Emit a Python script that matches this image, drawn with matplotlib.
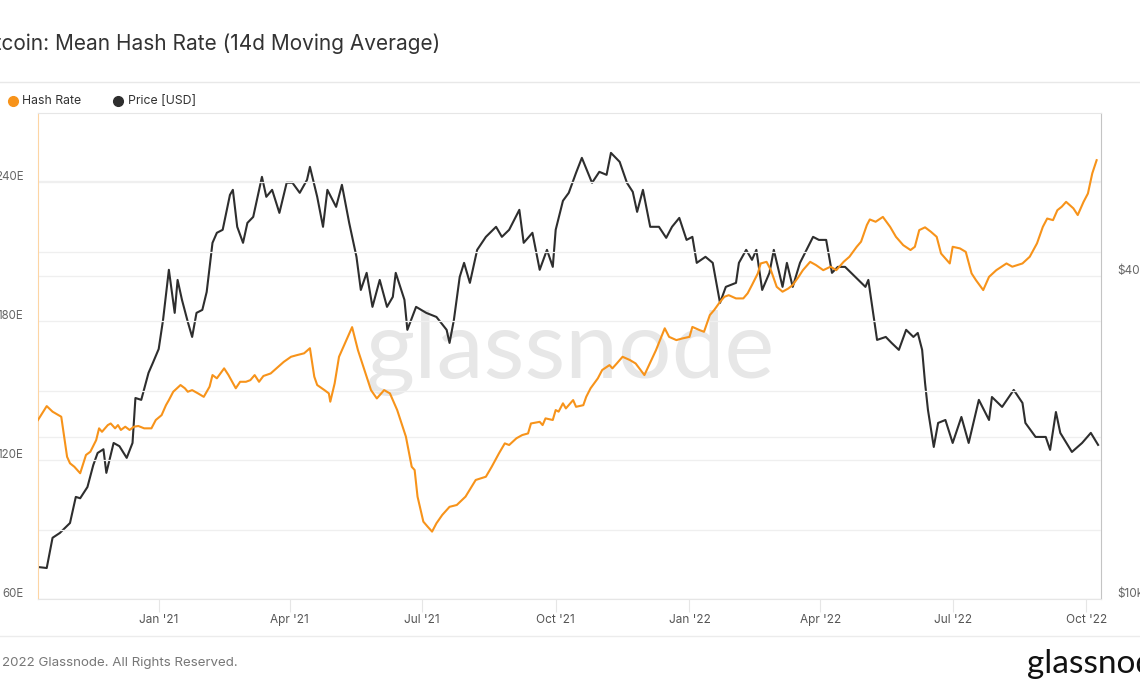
import matplotlib
matplotlib.use("Agg")
import matplotlib.pyplot as plt
import matplotlib.dates as mdates
import matplotlib.ticker as mticker
from matplotlib.lines import Line2D
from matplotlib.transforms import ScaledTranslation
import pandas as pd

plt.rcParams['font.family'] = ['Inter', 'DejaVu Sans']

# --- data ---
# hash rate, EH/s (left axis)
hash_dates = [
    '2020-10-10', '2020-10-16', '2020-10-20', '2020-10-24', '2020-10-26', '2020-10-28',
    '2020-10-30', '2020-11-01', '2020-11-04', '2020-11-08', '2020-11-12', '2020-11-15',
    '2020-11-19', '2020-11-21', '2020-11-23', '2020-11-27', '2020-11-29', '2020-12-02',
    '2020-12-04', '2020-12-06', '2020-12-09', '2020-12-12', '2020-12-15', '2020-12-18',
    '2020-12-22', '2020-12-27', '2020-12-30', '2021-01-03', '2021-01-06', '2021-01-08',
    '2021-01-11', '2021-01-16', '2021-01-19', '2021-01-21', '2021-01-24', '2021-01-28',
    '2021-02-01', '2021-02-05', '2021-02-07', '2021-02-10', '2021-02-15', '2021-02-18',
    '2021-02-23', '2021-02-26', '2021-03-02', '2021-03-05', '2021-03-08', '2021-03-11',
    '2021-03-14', '2021-03-19', '2021-03-23', '2021-03-28', '2021-04-02', '2021-04-06',
    '2021-04-11', '2021-04-15', '2021-04-18', '2021-04-20', '2021-04-25', '2021-04-28',
    '2021-04-29', '2021-05-02', '2021-05-05', '2021-05-14', '2021-05-18', '2021-05-27',
    '2021-05-31', '2021-06-05', '2021-06-09', '2021-06-14', '2021-06-20', '2021-06-24',
    '2021-06-26', '2021-06-28', '2021-07-02', '2021-07-05', '2021-07-08', '2021-07-11',
    '2021-07-15', '2021-07-20', '2021-07-25', '2021-07-31', '2021-08-07', '2021-08-14',
    '2021-08-18', '2021-08-23', '2021-08-27', '2021-08-30', '2021-09-04', '2021-09-08',
    '2021-09-12', '2021-09-14', '2021-09-20', '2021-09-22', '2021-09-24', '2021-09-29',
    '2021-10-01', '2021-10-03', '2021-10-06', '2021-10-08', '2021-10-13', '2021-10-15',
    '2021-10-20', '2021-10-22', '2021-10-25', '2021-10-30', '2021-11-02', '2021-11-07',
    '2021-11-09', '2021-11-12', '2021-11-16', '2021-11-21', '2021-11-25', '2021-12-01',
    '2021-12-09', '2021-12-15', '2021-12-18', '2021-12-23', '2021-12-27', '2022-01-01',
    '2022-01-03', '2022-01-08', '2022-01-11', '2022-01-15', '2022-01-18', '2022-01-22',
    '2022-01-25', '2022-01-28', '2022-02-02', '2022-02-07', '2022-02-10', '2022-02-13',
    '2022-02-17', '2022-02-19', '2022-02-23', '2022-02-26', '2022-03-02', '2022-03-06',
    '2022-03-10', '2022-03-13', '2022-03-17', '2022-03-20', '2022-03-25', '2022-03-29',
    '2022-04-03', '2022-04-08', '2022-04-12', '2022-04-17', '2022-04-21', '2022-04-26',
    '2022-04-29', '2022-05-03', '2022-05-05', '2022-05-09', '2022-05-14', '2022-05-19',
    '2022-05-23', '2022-05-28', '2022-06-02', '2022-06-05', '2022-06-08', '2022-06-12',
    '2022-06-16', '2022-06-20', '2022-06-23', '2022-06-27', '2022-06-29', '2022-07-01',
    '2022-07-06', '2022-07-10', '2022-07-14', '2022-07-17', '2022-07-22', '2022-07-26',
    '2022-07-31', '2022-08-07', '2022-08-11', '2022-08-18', '2022-08-23', '2022-08-28',
    '2022-09-01', '2022-09-04', '2022-09-08', '2022-09-11', '2022-09-14', '2022-09-17',
    '2022-09-22', '2022-09-25', '2022-09-29', '2022-10-02', '2022-10-05', '2022-10-08',
]
hash_rate = [
    137.3, 143.3, 140.9, 139.4, 138.7, 130.1,
    121.4, 118.6, 117.1, 114.3, 122.2, 123.6,
    128.6, 133.7, 132.2, 135.1, 135.8, 133.7,
    135.1, 133.0, 134.4, 133.0, 134.4, 134.7,
    133.7, 133.7, 137.3, 139.4, 143.7, 145.9,
    149.5, 152.4, 151.0, 149.5, 150.2, 148.8,
    147.3, 151.7, 156.7, 155.3, 159.6, 156.7,
    151.0, 153.8, 153.8, 154.5, 156.7, 153.8,
    156.3, 157.4, 159.6, 162.4, 164.6, 165.3,
    166.1, 168.3, 156.0, 152.4, 150.2, 148.8,
    145.2, 153.1, 164.6, 177.4, 167.5, 150.2,
    146.6, 150.2, 148.8, 141.6, 130.1, 117.1,
    115.7, 104.2, 93.4, 91.2, 89.1, 92.7,
    96.3, 99.8, 100.6, 104.2, 111.4, 112.8,
    117.1, 122.9, 127.2, 126.5, 129.4, 130.8,
    131.5, 135.8, 136.5, 135.1, 138.0, 137.3,
    141.6, 140.9, 144.5, 142.3, 145.9, 143.0,
    143.7, 147.3, 151.0, 155.3, 158.9, 161.0,
    159.6, 161.7, 164.6, 163.2, 161.7, 156.7,
    167.5, 176.9, 173.2, 171.8, 172.5, 173.2,
    177.5, 176.1, 175.4, 182.6, 184.8, 188.3,
    190.5, 191.2, 189.8, 189.8, 192.0, 195.6,
    200.6, 204.9, 205.6, 202.0, 194.8, 192.7,
    194.1, 195.6, 199.1, 202.0, 205.6, 204.2,
    202.0, 203.5, 202.0, 205.6, 207.8, 212.1,
    214.3, 221.5, 223.9, 222.9, 225.0, 220.7,
    216.4, 212.8, 210.7, 212.1, 219.3, 220.5,
    218.6, 216.4, 209.2, 206.3, 204.9, 212.1,
    211.4, 209.9, 200.6, 197.7, 193.4, 199.1,
    202.0, 204.9, 203.5, 204.9, 207.8, 213.6,
    220.7, 224.3, 223.6, 227.9, 229.4, 231.5,
    228.7, 225.8, 231.5, 235.1, 243.8, 249.5,
]

# BTC price, USD (right axis, log)
price_dates = [
    '2020-10-10', '2020-10-16', '2020-10-20', '2020-10-25', '2020-11-01', '2020-11-05', '2020-11-08',
    '2020-11-13', '2020-11-17', '2020-11-20', '2020-11-24', '2020-11-26', '2020-12-01', '2020-12-05',
    '2020-12-10', '2020-12-14', '2020-12-16', '2020-12-20', '2020-12-25', '2020-12-28', '2021-01-01',
    '2021-01-04', '2021-01-08', '2021-01-12', '2021-01-14', '2021-01-17', '2021-01-21', '2021-01-24',
    '2021-01-27', '2021-01-31', '2021-02-03', '2021-02-07', '2021-02-10', '2021-02-14', '2021-02-19',
    '2021-02-21', '2021-02-24', '2021-02-28', '2021-03-03', '2021-03-07', '2021-03-11', '2021-03-13',
    '2021-03-16', '2021-03-20', '2021-03-25', '2021-03-30', '2021-04-03', '2021-04-08', '2021-04-13',
    '2021-04-15', '2021-04-20', '2021-04-24', '2021-04-27', '2021-05-03', '2021-05-07', '2021-05-12',
    '2021-05-17', '2021-05-20', '2021-05-24', '2021-05-28', '2021-06-02', '2021-06-07', '2021-06-11',
    '2021-06-13', '2021-06-19', '2021-06-21', '2021-06-27', '2021-07-04', '2021-07-11', '2021-07-18',
    '2021-07-20', '2021-07-23', '2021-07-27', '2021-07-30', '2021-08-03', '2021-08-08', '2021-08-14',
    '2021-08-21', '2021-08-25', '2021-08-30', '2021-09-06', '2021-09-09', '2021-09-15', '2021-09-20',
    '2021-09-25', '2021-09-29', '2021-10-01', '2021-10-06', '2021-10-10', '2021-10-15', '2021-10-19',
    '2021-10-26', '2021-10-31', '2021-11-05', '2021-11-08', '2021-11-14', '2021-11-19', '2021-11-23',
    '2021-11-26', '2021-11-30', '2021-12-05', '2021-12-11', '2021-12-16', '2021-12-20', '2021-12-25',
    '2021-12-30', '2022-01-03', '2022-01-06', '2022-01-12', '2022-01-17', '2022-01-22', '2022-01-26',
    '2022-02-02', '2022-02-04', '2022-02-09', '2022-02-13', '2022-02-16', '2022-02-20', '2022-02-25',
    '2022-02-28', '2022-03-06', '2022-03-09', '2022-03-13', '2022-03-18', '2022-03-27', '2022-03-31',
    '2022-04-05', '2022-04-09', '2022-04-13', '2022-04-18', '2022-04-25', '2022-05-02', '2022-05-04',
    '2022-05-06', '2022-05-10', '2022-05-16', '2022-05-20', '2022-05-25', '2022-05-30', '2022-06-04',
    '2022-06-07', '2022-06-10', '2022-06-12', '2022-06-14', '2022-06-18', '2022-06-21', '2022-06-26',
    '2022-07-01', '2022-07-07', '2022-07-12', '2022-07-19', '2022-07-26', '2022-07-28', '2022-08-04',
    '2022-08-12', '2022-08-18', '2022-08-20', '2022-08-27', '2022-09-03', '2022-09-06', '2022-09-10',
    '2022-09-13', '2022-09-21', '2022-09-28', '2022-10-04', '2022-10-09',
]
price_usd = [
    11470, 11420, 13000, 13270, 13850, 15490, 15400,
    16160, 17750, 18700, 19000, 17170, 19520, 19250,
    18310, 19520, 23670, 23480, 26360, 27520, 29200,
    33080, 41000, 34090, 39260, 36050, 32800, 30750,
    34090, 34530, 37290, 46030, 48050, 48670, 56530,
    57760, 49300, 46030, 50130, 51440, 57760, 61070,
    56060, 57760, 52330, 59530, 59530, 57030, 60290,
    63750, 56060, 49300, 57760, 53700, 59020, 50130,
    43350, 37610, 40470, 34980, 39260, 34980, 36510,
    40470, 36050, 31700, 34980, 34090, 33500, 31700,
    29970, 33080, 39770, 42240, 38770, 44660, 47220,
    49300, 47220, 48670, 53020, 46030, 48050, 41000,
    44660, 41520, 48670, 55120, 57030, 62130, 66250,
    59530, 62400, 61600, 67680, 65130, 59530, 57270,
    52560, 57760, 49300, 49300, 47020, 49300, 51220,
    46610, 47220, 42240, 43350, 42240, 35580, 38110,
    38770, 42240, 44660, 42790, 44660, 37610, 40470,
    44660, 38110, 42240, 38110, 42240, 47220, 46610,
    46610, 40470, 41520, 41520, 39770, 38110, 39260,
    36050, 30360, 30750, 29970, 29090, 31700, 30750,
    31280, 29090, 25250, 22490, 19190, 21270, 21540,
    19520, 21820, 19520, 23480, 21540, 23770, 22780,
    24500, 23170, 21270, 20030, 20030, 18950, 22290,
    20380, 18780, 19520, 20380, 19360,
]

hash_ticks = [60, 90, 120, 150, 180, 210, 240]
hash_labeled = [60, 120, 180, 240]
price_ticks = [10000, 20000, 40000, 60000]
price_labels = {10000: '$10k', 40000: '$40k'}

ORANGE = '#f7931a'
DARK = '#2e2e2e'
GRID = '#efefef'
TXT = '#666666'

W, H = 1140, 694
fig = plt.figure(figsize=(W / 100, H / 100), dpi=100)
fig.patch.set_facecolor('white')

ax = fig.add_axes([38 / W, 1 - 599 / H, (1101 - 38) / W, (599 - 112.7) / H])
ax2 = ax.twinx()
ax.set_zorder(ax2.get_zorder() + 1)
ax.patch.set_visible(False)

# watermark behind the lines
ax2.text(0.5, 0.505, 'glassnode', transform=ax2.transAxes, ha='center', va='center',
         fontsize=68, family=['Lato', 'DejaVu Sans'], color='#e7e7e7', zorder=0)

ax2.plot(pd.to_datetime(price_dates), price_usd, color=DARK, lw=1.5, zorder=2)
ax.plot(pd.to_datetime(hash_dates), hash_rate, color=ORANGE, lw=1.5, zorder=3)

ax.set_xlim(pd.Timestamp('2020-10-10'), pd.Timestamp('2022-10-11'))
ax.set_ylim(60, 270)
ax2.set_yscale('log')
ax2.set_ylim(10000, 80400)

# left axis
ax.set_yticks(hash_ticks)
ax.yaxis.set_major_formatter(mticker.FuncFormatter(
    lambda v, p: f'{v:.0f}E' if round(v) in hash_labeled else ''))
ax.tick_params(axis='y', length=0, pad=10.5, labelsize=8.3, labelcolor=TXT)
ax.grid(axis='y', color=GRID, lw=0.9)
ax.set_axisbelow(True)

# right axis (log)
ax2.set_yticks(price_ticks)
ax2.yaxis.set_minor_locator(mticker.NullLocator())
ax2.yaxis.set_major_formatter(mticker.FuncFormatter(
    lambda v, p: price_labels.get(int(round(v)), '')))
ax2.tick_params(axis='y', length=0, pad=11.5, labelsize=8.5, labelcolor=TXT)
ax2.grid(axis='y', color=GRID, lw=0.9)

up = ScaledTranslation(0, 0.065, fig.dpi_scale_trans)
for lab in ax.get_yticklabels() + ax2.get_yticklabels():
    lab.set_transform(lab.get_transform() + up)

# x axis
ax.xaxis.set_major_locator(mdates.MonthLocator(bymonth=[1, 4, 7, 10]))
ax.xaxis.set_major_formatter(mdates.DateFormatter("%b '%y"))
ax.tick_params(axis='x', length=9, width=0.8, color='#e6e6e6', pad=2, labelsize=8.5, labelcolor='#555555')

for s in ['left', 'top', 'bottom']:
    ax2.spines[s].set_visible(False)
ax.spines['right'].set_visible(False)
ax.spines['left'].set_color('#fdd5a4')
ax.spines['top'].set_color('#e6e6e6')
ax.spines['bottom'].set_color('#e6e6e6')
ax2.spines['right'].set_color('#c4c4c4')

# header / footer
fig.text(440 / W, 1 - 44 / H, 'Bitcoin: Mean Hash Rate (14d Moving Average)', ha='right', va='center',
         fontsize=15, color='#333333')
fig.add_artist(Line2D([0, 1], [1 - 82 / H] * 2, transform=fig.transFigure, color='#e8e8e8', lw=1))
fig.add_artist(Line2D([0, 1], [1 - 636 / H] * 2, transform=fig.transFigure, color='#ececec', lw=1))

fig.add_artist(Line2D([13 / W], [1 - 101 / H], transform=fig.transFigure, marker='o', ms=7,
                      color=ORANGE, lw=0))
fig.text(22 / W, 1 - 101 / H, 'Hash Rate', ha='left', va='center', fontsize=8.8, color='#333333')
fig.add_artist(Line2D([118 / W], [1 - 101 / H], transform=fig.transFigure, marker='o', ms=7,
                      color=DARK, lw=0))
fig.text(128 / W, 1 - 101 / H, 'Price [USD]', ha='left', va='center', fontsize=8.8, color='#333333')

fig.text(238 / W, 1 - 663 / H, '© 2022 Glassnode. All Rights Reserved.', ha='right', va='center',
         fontsize=9.6, color='#777777')
fig.text(1027 / W, 1 - 664 / H, 'glassnode', ha='left', va='center', fontsize=24,
         family=['Lato', 'DejaVu Sans'], color='#111111')

fig.savefig('out.png', dpi=100)
